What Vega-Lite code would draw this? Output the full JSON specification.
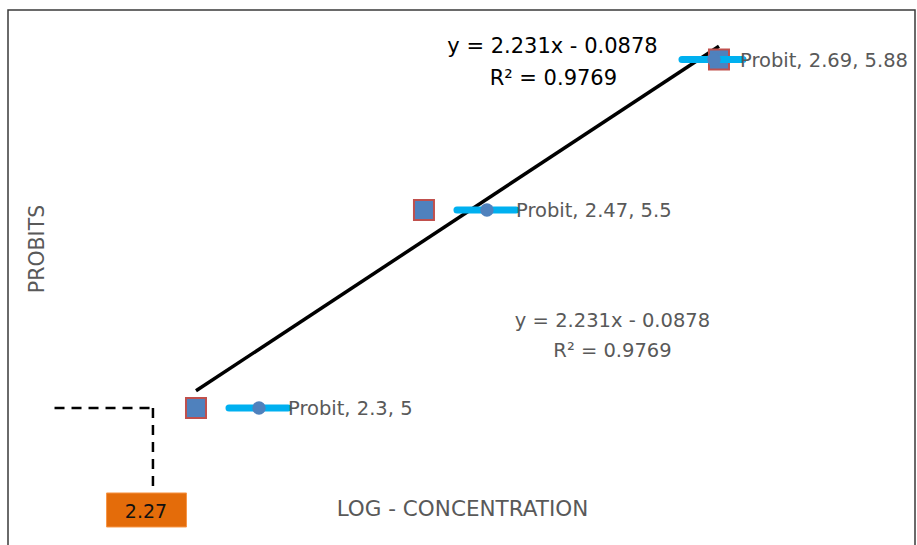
{
  "$schema": "https://vega.github.io/schema/vega-lite/v6.json",
  "width": 907,
  "height": 537,
  "autosize": "none",
  "padding": {"left": 8, "top": 10, "right": 2, "bottom": -2},
  "background": "white",
  "config": {"view": {"stroke": "#3a3a3a", "strokeWidth": 1.5}, "font": "DejaVu Sans"},
  "datasets": {
    "pts": [
      {"x": 2.3, "y": 5, "label": "Probit, 2.3, 5"},
      {"x": 2.47, "y": 5.5, "label": "Probit, 2.47, 5.5"},
      {"x": 2.69, "y": 5.88, "label": "Probit, 2.69, 5.88"}
    ],
    "trend": [
      {"x": 2.3, "y": 5.0435},
      {"x": 2.69, "y": 5.9136}
    ],
    "one": [{}]
  },
  "layer": [
    {
      "data": {"name": "trend"},
      "mark": {"type": "line", "color": "black", "strokeWidth": 3.5},
      "encoding": {
        "x": {"field": "x", "type": "quantitative", "scale": {"domain": [2.15981, 2.83617], "nice": false, "zero": false}, "axis": null},
        "y": {"field": "y", "type": "quantitative", "scale": {"domain": [4.64899, 6.00505], "nice": false, "zero": false}, "axis": null}
      }
    },
    {
      "data": {"name": "one"},
      "mark": {"type": "rule", "color": "black", "strokeWidth": 2.5, "strokeDash": [10, 7]},
      "encoding": {
        "x": {"datum": 2.1945, "type": "quantitative"},
        "x2": {"datum": 2.2679},
        "y": {"datum": 5, "type": "quantitative"}
      }
    },
    {
      "data": {"name": "one"},
      "mark": {"type": "rule", "color": "black", "strokeWidth": 2.5, "strokeDash": [10, 7]},
      "encoding": {
        "x": {"datum": 2.2679, "type": "quantitative"},
        "y": {"datum": 5, "type": "quantitative"},
        "y2": {"datum": 4.7955}
      }
    },
    {
      "data": {"name": "one"},
      "mark": {"type": "rect", "fill": "#E46C0A", "stroke": "#F79646", "strokeWidth": 1},
      "encoding": {
        "x": {"datum": 2.2333, "type": "quantitative"},
        "x2": {"datum": 2.2929},
        "y": {"datum": 4.7854, "type": "quantitative"},
        "y2": {"datum": 4.6995}
      }
    },
    {
      "data": {"name": "one"},
      "mark": {"type": "text", "align": "center", "baseline": "alphabetic", "fontSize": 19, "color": "#111111"},
      "encoding": {
        "x": {"datum": 2.2627, "type": "quantitative"},
        "y": {"datum": 4.7222, "type": "quantitative"},
        "text": {"value": "2.27"}
      }
    },
    {
      "data": {"name": "pts"},
      "mark": {"type": "point", "shape": "square", "filled": true, "size": 400, "fill": "#4F81BD", "stroke": "#C0504D", "strokeWidth": 2, "opacity": 1},
      "encoding": {
        "x": {"field": "x", "type": "quantitative"},
        "y": {"field": "y", "type": "quantitative"}
      }
    },
    {
      "data": {"name": "pts"},
      "transform": [{"filter": "datum.x < 2.6"}],
      "mark": {"type": "rule", "color": "#00B0F0", "strokeWidth": 7, "strokeCap": "round", "xOffset": 33, "x2Offset": 92},
      "encoding": {
        "x": {"field": "x", "type": "quantitative"},
        "x2": {"field": "x"},
        "y": {"field": "y", "type": "quantitative"}
      }
    },
    {
      "data": {"name": "pts"},
      "transform": [{"filter": "datum.x > 2.6"}],
      "mark": {"type": "rule", "color": "#00B0F0", "strokeWidth": 7, "strokeCap": "round", "xOffset": -37, "x2Offset": 24},
      "encoding": {
        "x": {"field": "x", "type": "quantitative"},
        "x2": {"field": "x"},
        "y": {"field": "y", "type": "quantitative"}
      }
    },
    {
      "data": {"name": "pts"},
      "transform": [{"filter": "datum.x < 2.6"}],
      "mark": {"type": "point", "shape": "circle", "filled": true, "size": 180, "color": "#4F81BD", "opacity": 1, "xOffset": 63},
      "encoding": {
        "x": {"field": "x", "type": "quantitative"},
        "y": {"field": "y", "type": "quantitative"}
      }
    },
    {
      "data": {"name": "pts"},
      "transform": [{"filter": "datum.x > 2.6"}],
      "mark": {"type": "point", "shape": "circle", "filled": true, "size": 180, "color": "#4F81BD", "opacity": 1, "xOffset": -5},
      "encoding": {
        "x": {"field": "x", "type": "quantitative"},
        "y": {"field": "y", "type": "quantitative"}
      }
    },
    {
      "data": {"name": "pts"},
      "transform": [{"filter": "datum.x < 2.6"}],
      "mark": {"type": "text", "align": "left", "baseline": "alphabetic", "dx": 92, "dy": 7, "fontSize": 19.5, "color": "#595959"},
      "encoding": {
        "x": {"field": "x", "type": "quantitative"},
        "y": {"field": "y", "type": "quantitative"},
        "text": {"field": "label"}
      }
    },
    {
      "data": {"name": "pts"},
      "transform": [{"filter": "datum.x > 2.6"}],
      "mark": {"type": "text", "align": "left", "baseline": "alphabetic", "dx": 21, "dy": 7, "fontSize": 19.5, "color": "#595959"},
      "encoding": {
        "x": {"field": "x", "type": "quantitative"},
        "y": {"field": "y", "type": "quantitative"},
        "text": {"field": "label"}
      }
    },
    {
      "data": {"name": "one"},
      "mark": {"type": "text", "align": "center", "baseline": "alphabetic", "fontSize": 21, "color": "#000000"},
      "encoding": {
        "x": {"datum": 2.5658, "type": "quantitative"},
        "y": {"datum": 5.8965, "type": "quantitative"},
        "text": {"value": "y = 2.231x - 0.0878"}
      }
    },
    {
      "data": {"name": "one"},
      "mark": {"type": "text", "align": "center", "baseline": "alphabetic", "fontSize": 21, "color": "#000000"},
      "encoding": {
        "x": {"datum": 2.5665, "type": "quantitative"},
        "y": {"datum": 5.8157, "type": "quantitative"},
        "text": {"value": "R² = 0.9769"}
      }
    },
    {
      "data": {"name": "one"},
      "mark": {"type": "text", "align": "center", "baseline": "alphabetic", "fontSize": 19.5, "color": "#595959"},
      "encoding": {
        "x": {"datum": 2.6106, "type": "quantitative"},
        "y": {"datum": 5.2045, "type": "quantitative"},
        "text": {"value": "y = 2.231x - 0.0878"}
      }
    },
    {
      "data": {"name": "one"},
      "mark": {"type": "text", "align": "center", "baseline": "alphabetic", "fontSize": 19.5, "color": "#595959"},
      "encoding": {
        "x": {"datum": 2.6106, "type": "quantitative"},
        "y": {"datum": 5.1288, "type": "quantitative"},
        "text": {"value": "R² = 0.9769"}
      }
    },
    {
      "data": {"name": "one"},
      "mark": {"type": "text", "align": "center", "baseline": "alphabetic", "fontSize": 21.5, "color": "#595959"},
      "encoding": {
        "x": {"datum": 2.4987, "type": "quantitative"},
        "y": {"datum": 4.7273, "type": "quantitative"},
        "text": {"value": "LOG - CONCENTRATION"}
      }
    },
    {
      "data": {"name": "one"},
      "mark": {"type": "text", "align": "center", "baseline": "alphabetic", "angle": 270, "fontSize": 20.5, "color": "#595959"},
      "encoding": {
        "x": {"datum": 2.1867, "type": "quantitative"},
        "y": {"datum": 5.4015, "type": "quantitative"},
        "text": {"value": "PROBITS"}
      }
    }
  ]
}
